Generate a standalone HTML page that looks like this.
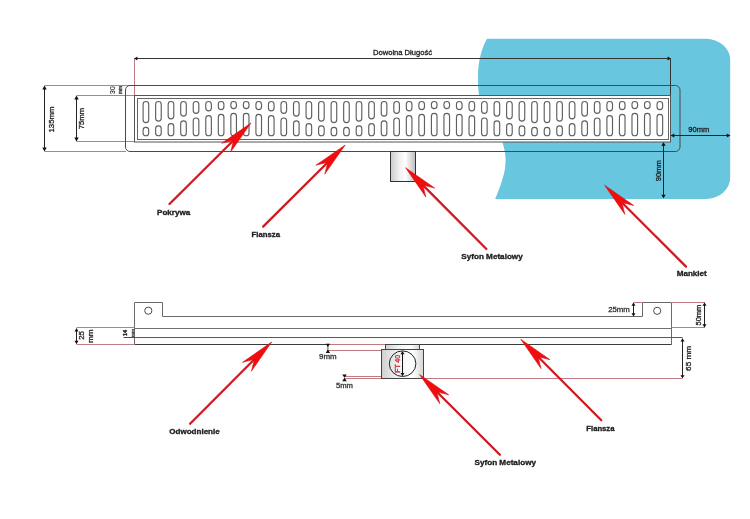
<!DOCTYPE html><html><head><meta charset="utf-8"><style>html,body{margin:0;padding:0;background:#fff;overflow:hidden}svg{display:block;will-change:transform}text{font-family:"Liberation Sans",sans-serif}</style></head><body>
<svg width="750" height="519" viewBox="0 0 750 519">
<defs><linearGradient id="sg" x1="0" x2="1" y1="0" y2="0"><stop offset="0" stop-color="#c9c9c9"/><stop offset="0.35" stop-color="#f0f0f0"/><stop offset="0.6" stop-color="#ffffff"/><stop offset="1" stop-color="#bdbdbd"/></linearGradient><linearGradient id="sg2" x1="0" x2="1" y1="0" y2="0"><stop offset="0" stop-color="#cfcfcf"/><stop offset="0.4" stop-color="#f4f4f4"/><stop offset="0.75" stop-color="#ffffff"/><stop offset="1" stop-color="#d4d4d4"/></linearGradient></defs>
<path d="M487,38.8 L706,38.8 A24.2,21 0 0 1 730.2,59.8 L730.2,177.5 A24.2,21.5 0 0 1 706,199 L495.2,199 C498,192 501,185 503.5,175.5 C504.8,171 505.3,167 505.5,162 C505.8,156 505,150 502,141 C496,128 481,112 479,95 C478.2,90 478,84 478,75 C478,62 482,47 487,38.8 Z" fill="#68c6df"/>
<line x1="134" y1="58.5" x2="670.5" y2="58.5" stroke="#333" stroke-width="1"/>
<path d="M134.2,58.5 L137.4,56.4 L137.4,60.6 Z" fill="#111"/>
<path d="M670.8,58.5 L667.6,56.4 L667.6,60.6 Z" fill="#111"/>
<line x1="670.5" y1="58.5" x2="670.5" y2="96" stroke="#333" stroke-width="1"/>
<text x="402.5" y="55.3" font-size="7.4" text-anchor="middle" fill="#222" stroke="#222" stroke-width="0.3" textLength="59" lengthAdjust="spacingAndGlyphs">Dowolna Długość</text>
<g stroke="#c07a82" stroke-width="1" fill="none">
<line x1="134.5" y1="58.5" x2="134.5" y2="95.5"/>
<line x1="44.5" y1="85.5" x2="134.5" y2="85.5"/>
<line x1="76.5" y1="95.5" x2="134.5" y2="95.5"/>
<line x1="76.5" y1="141.5" x2="134.5" y2="141.5"/>
<line x1="44.5" y1="151.5" x2="126" y2="151.5"/>
</g>
<rect x="125.5" y="85.5" width="554.5" height="66" rx="4.5" ry="4.5" fill="none" stroke="#4a4a4a" stroke-width="1"/>
<rect x="134.5" y="95.5" width="536" height="46.5" fill="#fff" stroke="#555" stroke-width="1"/>
<rect x="137.5" y="98.5" width="531" height="41" fill="#fff" stroke="#666" stroke-width="1"/>
<g fill="none" stroke="#5f5f5f" stroke-width="1.15">
<rect x="143.10" y="101.5" width="5.6" height="21.10" rx="2.8" ry="2.8"/>
<rect x="143.10" y="127.30" width="5.6" height="8.40" rx="2.8" ry="2.8"/>
<rect x="155.63" y="101.5" width="5.6" height="19.60" rx="2.8" ry="2.8"/>
<rect x="155.63" y="125.80" width="5.6" height="9.90" rx="2.8" ry="2.8"/>
<rect x="168.17" y="101.5" width="5.6" height="17.40" rx="2.8" ry="2.8"/>
<rect x="168.17" y="123.60" width="5.6" height="12.10" rx="2.8" ry="2.8"/>
<rect x="180.70" y="101.5" width="5.6" height="14.60" rx="2.8" ry="2.8"/>
<rect x="180.70" y="120.80" width="5.6" height="14.90" rx="2.8" ry="2.8"/>
<rect x="193.24" y="101.5" width="5.6" height="11.80" rx="2.8" ry="2.8"/>
<rect x="193.24" y="118.00" width="5.6" height="17.70" rx="2.8" ry="2.8"/>
<rect x="205.77" y="101.5" width="5.6" height="9.40" rx="2.8" ry="2.8"/>
<rect x="205.77" y="115.60" width="5.6" height="20.10" rx="2.8" ry="2.8"/>
<rect x="218.31" y="101.5" width="5.6" height="8.10" rx="2.8" ry="2.8"/>
<rect x="218.31" y="114.30" width="5.6" height="21.40" rx="2.8" ry="2.8"/>
<rect x="230.84" y="101.5" width="5.6" height="7.10" rx="2.8" ry="2.8"/>
<rect x="230.84" y="113.30" width="5.6" height="22.40" rx="2.8" ry="2.8"/>
<rect x="243.38" y="101.5" width="5.6" height="7.10" rx="2.8" ry="2.8"/>
<rect x="243.38" y="113.30" width="5.6" height="22.40" rx="2.8" ry="2.8"/>
<rect x="255.92" y="101.5" width="5.6" height="8.10" rx="2.8" ry="2.8"/>
<rect x="255.92" y="114.30" width="5.6" height="21.40" rx="2.8" ry="2.8"/>
<rect x="268.45" y="101.5" width="5.6" height="9.40" rx="2.8" ry="2.8"/>
<rect x="268.45" y="115.60" width="5.6" height="20.10" rx="2.8" ry="2.8"/>
<rect x="280.98" y="101.5" width="5.6" height="11.80" rx="2.8" ry="2.8"/>
<rect x="280.98" y="118.00" width="5.6" height="17.70" rx="2.8" ry="2.8"/>
<rect x="293.52" y="101.5" width="5.6" height="14.60" rx="2.8" ry="2.8"/>
<rect x="293.52" y="120.80" width="5.6" height="14.90" rx="2.8" ry="2.8"/>
<rect x="306.06" y="101.5" width="5.6" height="17.40" rx="2.8" ry="2.8"/>
<rect x="306.06" y="123.60" width="5.6" height="12.10" rx="2.8" ry="2.8"/>
<rect x="318.59" y="101.5" width="5.6" height="19.60" rx="2.8" ry="2.8"/>
<rect x="318.59" y="125.80" width="5.6" height="9.90" rx="2.8" ry="2.8"/>
<rect x="331.12" y="101.5" width="5.6" height="21.10" rx="2.8" ry="2.8"/>
<rect x="331.12" y="127.30" width="5.6" height="8.40" rx="2.8" ry="2.8"/>
<rect x="343.66" y="101.5" width="5.6" height="21.10" rx="2.8" ry="2.8"/>
<rect x="343.66" y="127.30" width="5.6" height="8.40" rx="2.8" ry="2.8"/>
<rect x="356.19" y="101.5" width="5.6" height="19.60" rx="2.8" ry="2.8"/>
<rect x="356.19" y="125.80" width="5.6" height="9.90" rx="2.8" ry="2.8"/>
<rect x="368.73" y="101.5" width="5.6" height="17.40" rx="2.8" ry="2.8"/>
<rect x="368.73" y="123.60" width="5.6" height="12.10" rx="2.8" ry="2.8"/>
<rect x="381.26" y="101.5" width="5.6" height="14.60" rx="2.8" ry="2.8"/>
<rect x="381.26" y="120.80" width="5.6" height="14.90" rx="2.8" ry="2.8"/>
<rect x="393.80" y="101.5" width="5.6" height="11.80" rx="2.8" ry="2.8"/>
<rect x="393.80" y="118.00" width="5.6" height="17.70" rx="2.8" ry="2.8"/>
<rect x="406.33" y="101.5" width="5.6" height="9.40" rx="2.8" ry="2.8"/>
<rect x="406.33" y="115.60" width="5.6" height="20.10" rx="2.8" ry="2.8"/>
<rect x="418.87" y="101.5" width="5.6" height="8.10" rx="2.8" ry="2.8"/>
<rect x="418.87" y="114.30" width="5.6" height="21.40" rx="2.8" ry="2.8"/>
<rect x="431.41" y="101.5" width="5.6" height="7.10" rx="2.8" ry="2.8"/>
<rect x="431.41" y="113.30" width="5.6" height="22.40" rx="2.8" ry="2.8"/>
<rect x="443.94" y="101.5" width="5.6" height="7.10" rx="2.8" ry="2.8"/>
<rect x="443.94" y="113.30" width="5.6" height="22.40" rx="2.8" ry="2.8"/>
<rect x="456.47" y="101.5" width="5.6" height="8.10" rx="2.8" ry="2.8"/>
<rect x="456.47" y="114.30" width="5.6" height="21.40" rx="2.8" ry="2.8"/>
<rect x="469.01" y="101.5" width="5.6" height="9.40" rx="2.8" ry="2.8"/>
<rect x="469.01" y="115.60" width="5.6" height="20.10" rx="2.8" ry="2.8"/>
<rect x="481.55" y="101.5" width="5.6" height="11.80" rx="2.8" ry="2.8"/>
<rect x="481.55" y="118.00" width="5.6" height="17.70" rx="2.8" ry="2.8"/>
<rect x="494.08" y="101.5" width="5.6" height="14.60" rx="2.8" ry="2.8"/>
<rect x="494.08" y="120.80" width="5.6" height="14.90" rx="2.8" ry="2.8"/>
<rect x="506.61" y="101.5" width="5.6" height="17.40" rx="2.8" ry="2.8"/>
<rect x="506.61" y="123.60" width="5.6" height="12.10" rx="2.8" ry="2.8"/>
<rect x="519.15" y="101.5" width="5.6" height="19.60" rx="2.8" ry="2.8"/>
<rect x="519.15" y="125.80" width="5.6" height="9.90" rx="2.8" ry="2.8"/>
<rect x="531.69" y="101.5" width="5.6" height="21.10" rx="2.8" ry="2.8"/>
<rect x="531.69" y="127.30" width="5.6" height="8.40" rx="2.8" ry="2.8"/>
<rect x="544.22" y="101.5" width="5.6" height="21.10" rx="2.8" ry="2.8"/>
<rect x="544.22" y="127.30" width="5.6" height="8.40" rx="2.8" ry="2.8"/>
<rect x="556.76" y="101.5" width="5.6" height="19.60" rx="2.8" ry="2.8"/>
<rect x="556.76" y="125.80" width="5.6" height="9.90" rx="2.8" ry="2.8"/>
<rect x="569.29" y="101.5" width="5.6" height="17.40" rx="2.8" ry="2.8"/>
<rect x="569.29" y="123.60" width="5.6" height="12.10" rx="2.8" ry="2.8"/>
<rect x="581.83" y="101.5" width="5.6" height="14.60" rx="2.8" ry="2.8"/>
<rect x="581.83" y="120.80" width="5.6" height="14.90" rx="2.8" ry="2.8"/>
<rect x="594.36" y="101.5" width="5.6" height="11.80" rx="2.8" ry="2.8"/>
<rect x="594.36" y="118.00" width="5.6" height="17.70" rx="2.8" ry="2.8"/>
<rect x="606.90" y="101.5" width="5.6" height="9.40" rx="2.8" ry="2.8"/>
<rect x="606.90" y="115.60" width="5.6" height="20.10" rx="2.8" ry="2.8"/>
<rect x="619.43" y="101.5" width="5.6" height="8.10" rx="2.8" ry="2.8"/>
<rect x="619.43" y="114.30" width="5.6" height="21.40" rx="2.8" ry="2.8"/>
<rect x="631.97" y="101.5" width="5.6" height="7.10" rx="2.8" ry="2.8"/>
<rect x="631.97" y="113.30" width="5.6" height="22.40" rx="2.8" ry="2.8"/>
<rect x="644.50" y="101.5" width="5.6" height="7.10" rx="2.8" ry="2.8"/>
<rect x="644.50" y="113.30" width="5.6" height="22.40" rx="2.8" ry="2.8"/>
<rect x="657.04" y="101.5" width="5.6" height="8.10" rx="2.8" ry="2.8"/>
<rect x="657.04" y="114.30" width="5.6" height="21.40" rx="2.8" ry="2.8"/>
</g>
<line x1="44.5" y1="86.5" x2="44.5" y2="150.5" stroke="#222" stroke-width="1"/>
<path d="M44.5,85.5 L42.3,89.5 L46.7,89.5 Z" fill="#111"/>
<path d="M44.5,151.5 L42.3,147.5 L46.7,147.5 Z" fill="#111"/>
<text x="54.3" y="119.5" font-size="7.6" text-anchor="middle" fill="#222" stroke="#222" stroke-width="0.3" transform="rotate(-90 54.3 119.5)" textLength="26" lengthAdjust="spacingAndGlyphs">135mm</text>
<line x1="76.5" y1="96.5" x2="76.5" y2="140.5" stroke="#222" stroke-width="1"/>
<path d="M76.5,95.5 L74.3,99.5 L78.7,99.5 Z" fill="#111"/>
<path d="M76.5,141.5 L74.3,137.5 L78.7,137.5 Z" fill="#111"/>
<text x="84.1" y="118.5" font-size="7.6" text-anchor="middle" fill="#222" stroke="#222" stroke-width="0.3" transform="rotate(-90 84.1 118.5)" textLength="21.3" lengthAdjust="spacingAndGlyphs">75mm</text>
<text x="114.8" y="90.1" font-size="6.4" text-anchor="middle" fill="#222" stroke="#222" stroke-width="0.12" transform="rotate(-90 114.8 90.1)" textLength="7.6" lengthAdjust="spacingAndGlyphs">30</text>
<text x="122.0" y="90.1" font-size="4.6" text-anchor="middle" fill="#555" stroke="#555" stroke-width="0.4" transform="rotate(-90 122.0 90.1)" textLength="8" lengthAdjust="spacingAndGlyphs">mm</text>
<line x1="671" y1="135.5" x2="730" y2="135.5" stroke="#222" stroke-width="1"/>
<path d="M670.8,135.5 L674.3,133.4 L674.3,137.6 Z" fill="#111"/>
<path d="M730.3,135.5 L726.8,133.4 L726.8,137.6 Z" fill="#111"/>
<text x="698.8" y="132.2" font-size="7.4" text-anchor="middle" fill="#222" stroke="#222" stroke-width="0.3" textLength="21" lengthAdjust="spacingAndGlyphs">90mm</text>
<line x1="663.5" y1="143" x2="663.5" y2="197.5" stroke="#222" stroke-width="1"/>
<path d="M663.5,142.2 L661.3,145.7 L665.7,145.7 Z" fill="#111"/>
<path d="M663.5,198.2 L661.3,194.7 L665.7,194.7 Z" fill="#111"/>
<text x="661" y="170.7" font-size="7.4" text-anchor="middle" fill="#222" stroke="#222" stroke-width="0.3" transform="rotate(-90 661 170.7)" textLength="21" lengthAdjust="spacingAndGlyphs">90mm</text>
<rect x="390.5" y="151.5" width="25" height="30" fill="url(#sg)" stroke="#333" stroke-width="1"/>
<line x1="169.5" y1="204.0" x2="233.6" y2="140.3" stroke="#cf1a22" stroke-width="2.3" stroke-linecap="round"/>
<path d="M251.0,123.0 L230.6,152.1 L233.6,140.3 L221.7,143.2 Z" fill="#f20c0c" stroke="#d0141c" stroke-width="0.6"/>
<text x="157" y="214.5" font-size="6.8" font-weight="bold" text-anchor="start" fill="#1e1e1e" stroke="#1e1e1e" stroke-width="0.3" textLength="33.3" lengthAdjust="spacingAndGlyphs">Pokrywa</text>
<line x1="263.1" y1="226.6" x2="327.8" y2="162.3" stroke="#cf1a22" stroke-width="2.3" stroke-linecap="round"/>
<path d="M345.2,145.0 L324.8,174.1 L327.8,162.3 L315.9,165.2 Z" fill="#f20c0c" stroke="#d0141c" stroke-width="0.6"/>
<text x="251.6" y="236.8" font-size="6.8" font-weight="bold" text-anchor="start" fill="#1e1e1e" stroke="#1e1e1e" stroke-width="0.3" textLength="28.4" lengthAdjust="spacingAndGlyphs">Flansza</text>
<line x1="486.4" y1="249.0" x2="422.9" y2="185.1" stroke="#cf1a22" stroke-width="2.3" stroke-linecap="round"/>
<path d="M405.6,167.7 L434.7,188.1 L422.9,185.1 L425.8,197.0 Z" fill="#f20c0c" stroke="#d0141c" stroke-width="0.6"/>
<text x="461.3" y="259" font-size="6.8" font-weight="bold" text-anchor="start" fill="#1e1e1e" stroke="#1e1e1e" stroke-width="0.3" textLength="61.4" lengthAdjust="spacingAndGlyphs">Syfon Metalowy</text>
<line x1="686.0" y1="266.6" x2="621.9" y2="202.5" stroke="#cf1a22" stroke-width="2.3" stroke-linecap="round"/>
<path d="M604.6,185.2 L633.8,205.5 L621.9,202.5 L624.9,214.4 Z" fill="#f20c0c" stroke="#d0141c" stroke-width="0.6"/>
<text x="676.7" y="276.4" font-size="6.8" font-weight="bold" text-anchor="start" fill="#1e1e1e" stroke="#1e1e1e" stroke-width="0.3" textLength="30.1" lengthAdjust="spacingAndGlyphs">Mankiet</text>
<path d="M134.5,344.5 L134.5,302.5 L162.5,302.5 L162.5,316.5 L642.5,316.5 L642.5,302.5 L671.5,302.5 L671.5,344.5" fill="none" stroke="#6a6a6a" stroke-width="1"/>
<rect x="135" y="338" width="536" height="6" fill="#fbfbfb"/>
<line x1="134.5" y1="328.5" x2="671.5" y2="328.5" stroke="#707070" stroke-width="1"/>
<line x1="134.5" y1="337.5" x2="682.5" y2="337.5" stroke="#5a5a5a" stroke-width="1"/>
<line x1="134.5" y1="344.5" x2="671.5" y2="344.5" stroke="#3c3c3c" stroke-width="1"/>
<circle cx="148.3" cy="310.7" r="3.6" fill="none" stroke="#4a4a4a" stroke-width="1"/>
<circle cx="657.2" cy="310.8" r="3.6" fill="none" stroke="#4a4a4a" stroke-width="1"/>
<g stroke="#c07a82" stroke-width="1" fill="none">
<line x1="76.5" y1="327.5" x2="134.5" y2="327.5"/>
<line x1="76.5" y1="344.5" x2="134.5" y2="344.5"/>
<line x1="633.5" y1="302.5" x2="642.5" y2="302.5"/>
<line x1="671.5" y1="302.5" x2="705" y2="302.5"/>
<line x1="671.5" y1="327.5" x2="705" y2="327.5"/>
<line x1="327.5" y1="344.5" x2="385.5" y2="344.5"/>
<line x1="327.5" y1="350.5" x2="381.5" y2="350.5"/>
<line x1="344.5" y1="376.5" x2="381.5" y2="376.5"/>
<line x1="344.5" y1="378.5" x2="682.5" y2="378.5"/>
</g>
<line x1="76.5" y1="329" x2="76.5" y2="343" stroke="#222" stroke-width="1"/>
<path d="M76.5,327.9 L74.5,331.4 L78.5,331.4 Z" fill="#111"/>
<path d="M76.5,344.2 L74.5,340.7 L78.5,340.7 Z" fill="#111"/>
<text x="84" y="335.4" font-size="7.2" text-anchor="middle" fill="#222" stroke="#222" stroke-width="0.3" transform="rotate(-90 84 335.4)" textLength="8.8" lengthAdjust="spacingAndGlyphs">25</text>
<text x="93.3" y="336.2" font-size="7.2" text-anchor="middle" fill="#222" stroke="#222" stroke-width="0.3" transform="rotate(-90 93.3 336.2)" textLength="13.6" lengthAdjust="spacingAndGlyphs">mm</text>
<text x="127.4" y="332.9" font-size="5" font-weight="bold" text-anchor="middle" fill="#222" stroke="#222" stroke-width="0.3" transform="rotate(-90 127.4 332.9)" textLength="6" lengthAdjust="spacingAndGlyphs">14</text>
<text x="133.8" y="333" font-size="4.4" text-anchor="middle" fill="#555" stroke="#555" stroke-width="0.4" transform="rotate(-90 133.8 333)" textLength="8" lengthAdjust="spacingAndGlyphs">mm</text>
<line x1="123.6" y1="337.5" x2="134.5" y2="337.5" stroke="#4a4a4a" stroke-width="1"/>
<line x1="633.5" y1="303.5" x2="633.5" y2="315.5" stroke="#222" stroke-width="1"/>
<path d="M633.5,302.5 L631.5,305.8 L635.5,305.8 Z" fill="#111"/>
<path d="M633.5,316.5 L631.5,313.2 L635.5,313.2 Z" fill="#111"/>
<text x="619" y="311.7" font-size="7.4" text-anchor="middle" fill="#333" stroke="#333" stroke-width="0.3" textLength="21.7" lengthAdjust="spacingAndGlyphs">25mm</text>
<line x1="704.5" y1="303.5" x2="704.5" y2="326.5" stroke="#222" stroke-width="1"/>
<path d="M704.5,302.5 L702.5,305.8 L706.5,305.8 Z" fill="#111"/>
<path d="M704.5,327.5 L702.5,324.2 L706.5,324.2 Z" fill="#111"/>
<text x="700.9" y="315.1" font-size="7.4" text-anchor="middle" fill="#222" stroke="#222" stroke-width="0.3" transform="rotate(-90 700.9 315.1)" textLength="20.8" lengthAdjust="spacingAndGlyphs">50mm</text>
<line x1="682.5" y1="338.5" x2="682.5" y2="377.5" stroke="#222" stroke-width="1"/>
<path d="M682.5,338.5 L680.4,341.5 L684.6,341.5 Z" fill="#111"/>
<path d="M682.5,378.3 L680.4,375.3 L684.6,375.3 Z" fill="#111"/>
<text x="691.5" y="358.4" font-size="7.4" text-anchor="middle" fill="#222" stroke="#222" stroke-width="0.3" transform="rotate(-90 691.5 358.4)" textLength="25" lengthAdjust="spacingAndGlyphs">65 mm</text>
<rect x="385.5" y="344.5" width="34" height="5" fill="url(#sg2)" stroke="#444" stroke-width="1"/>
<rect x="381.5" y="349.5" width="42" height="29" fill="url(#sg2)" stroke="#444" stroke-width="1"/>
<ellipse cx="402.6" cy="363.7" rx="13.3" ry="12.8" fill="none" stroke="#222" stroke-width="1"/>
<line x1="402.5" y1="352" x2="402.5" y2="375.5" stroke="#111" stroke-width="1"/>
<path d="M402.5,351.1 L400.5,354.3 L404.5,354.3 Z" fill="#111"/>
<path d="M402.5,376.3 L400.5,373.1 L404.5,373.1 Z" fill="#111"/>
<text x="400.2" y="363.9" font-size="7.2" text-anchor="middle" fill="#c83a46" stroke="#c83a46" stroke-width="0.45" transform="rotate(-90 400.2 363.9)" textLength="17.8" lengthAdjust="spacingAndGlyphs">FT 40</text>
<line x1="327.9" y1="344" x2="327.9" y2="351" stroke="#333" stroke-width="0.8"/>
<path d="M327.9,347.0 L325.7,343.7 L330.1,343.7 Z" fill="#111"/>
<path d="M327.9,349.6 L325.7,352.9 L330.1,352.9 Z" fill="#111"/>
<text x="327.8" y="359" font-size="7.2" text-anchor="middle" fill="#333" stroke="#333" stroke-width="0.3" textLength="17.6" lengthAdjust="spacingAndGlyphs">9mm</text>
<path d="M344.5,377.8 L342.2,374.4 L346.8,374.4 Z" fill="#111"/>
<path d="M344.5,377.8 L342.2,381.2 L346.8,381.2 Z" fill="#111"/>
<text x="344.5" y="388.4" font-size="7.2" text-anchor="middle" fill="#333" stroke="#333" stroke-width="0.3" textLength="17" lengthAdjust="spacingAndGlyphs">5mm</text>
<line x1="190.1" y1="423.7" x2="254.4" y2="359.3" stroke="#cf1a22" stroke-width="2.3" stroke-linecap="round"/>
<path d="M271.7,342.0 L251.4,371.2 L254.4,359.3 L242.5,362.3 Z" fill="#f20c0c" stroke="#d0141c" stroke-width="0.6"/>
<text x="169.3" y="434.1" font-size="6.8" font-weight="bold" text-anchor="start" fill="#1e1e1e" stroke="#1e1e1e" stroke-width="0.3" textLength="50.4" lengthAdjust="spacingAndGlyphs">Odwodnienie</text>
<line x1="601.3" y1="420.2" x2="538.1" y2="356.7" stroke="#cf1a22" stroke-width="2.3" stroke-linecap="round"/>
<path d="M520.8,339.3 L550.0,359.7 L538.1,356.7 L541.0,368.6 Z" fill="#f20c0c" stroke="#d0141c" stroke-width="0.6"/>
<text x="586.3" y="430.6" font-size="6.8" font-weight="bold" text-anchor="start" fill="#1e1e1e" stroke="#1e1e1e" stroke-width="0.3" textLength="28.2" lengthAdjust="spacingAndGlyphs">Flansza</text>
<line x1="499.9" y1="454.8" x2="436.8" y2="391.8" stroke="#cf1a22" stroke-width="2.3" stroke-linecap="round"/>
<path d="M419.5,374.5 L448.7,394.8 L436.8,391.8 L439.8,403.7 Z" fill="#f20c0c" stroke="#d0141c" stroke-width="0.6"/>
<text x="474.5" y="465.2" font-size="6.8" font-weight="bold" text-anchor="start" fill="#1e1e1e" stroke="#1e1e1e" stroke-width="0.3" textLength="61.5" lengthAdjust="spacingAndGlyphs">Syfon Metalowy</text>
</svg></body></html>
